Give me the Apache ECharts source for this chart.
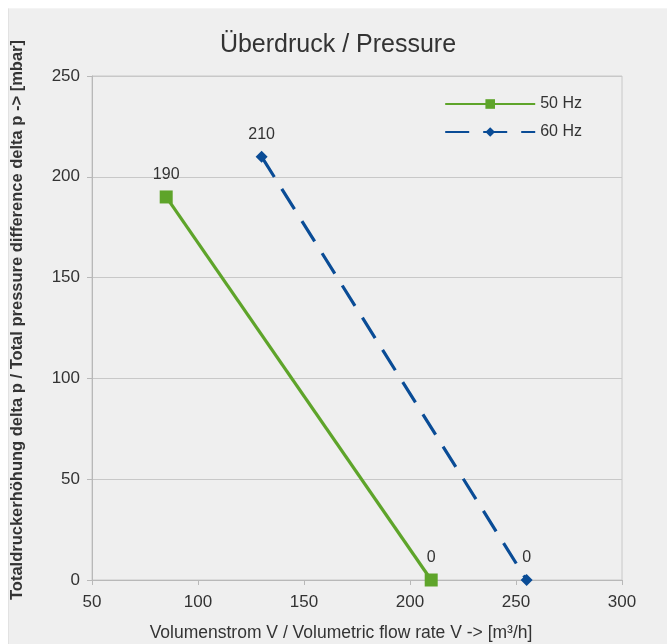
<!DOCTYPE html>
<html>
<head>
<meta charset="utf-8">
<script src="https://cdn.jsdelivr.net/npm/echarts@6/dist/echarts.min.js"></script>
<style>
html,body{margin:0;padding:0;background:#ffffff;}
#bg{position:absolute;left:8px;top:8px;width:658px;height:636px;background:#efefef;border-left:1px solid #e2e2e2;border-top:1px solid #f4f4f4;}
#chart{position:absolute;left:0;top:0;width:669px;height:644px;}
</style>
</head>
<body>
<div id="bg"></div>
<div id="chart"></div>
<script>
const hz50Flow = [85, 210];
const hz50Pressure = [190, 0];
const hz60Flow = [130, 255];
const hz60Pressure = [210, 0];
const seriesNames = ['50 Hz', '60 Hz'];
const titleText = 'Überdruck / Pressure';
const xName = 'Volumenstrom V / Volumetric flow rate V -> [m³/h]';
const yName = 'Totaldruckerhöhung delta p / Total pressure difference delta p -> [mbar]';

const pairs = (xs, ys) => xs.map((x, i) => [x, ys[i]]);
const font = 'Liberation Sans, Arial, sans-serif';
const green = '#5ea42a';
const blue = '#0a4c96';

const chart = echarts.init(document.getElementById('chart'), null, {renderer: 'canvas'});
chart.setOption({
  backgroundColor: 'transparent',
  animation: false,
  textStyle: {fontFamily: font},
  title: {
    text: titleText, top: 33,
    textStyle: {fontFamily: font, fontSize: 25, fontWeight: 'normal', color: '#333'},
    padding: 0, itemGap: 0,
    left: 338, textAlign: 'center'
  },
  legend: {
    right: 82, top: 91, orient: 'vertical', itemGap: 12,
    itemWidth: 90, itemHeight: 12,
    textStyle: {fontFamily: font, fontSize: 16, color: '#333'},
    data: [
      {name: seriesNames[0]},
      {name: seriesNames[1]}
    ]
  },
  grid: {left: 92, right: 47, top: 76, bottom: 64, outerBoundsMode: 'none', containLabel: false,
    show: true, borderColor: '#c8c8c8', borderWidth: 1, backgroundColor: 'transparent'},
  xAxis: {
    type: 'value', min: 50, max: 300, interval: 50,
    name: xName, nameLocation: 'middle', nameGap: 44,
    nameTextStyle: {fontFamily: font, fontSize: 17.5, color: '#333', padding: [0, 32, 0, 0]},
    axisLine: {show: true, lineStyle: {color: '#b8b8b8'}},
    axisTick: {show: true, length: 5, inside: false, lineStyle: {color: '#b8b8b8'}},
    axisLabel: {fontFamily: font, fontSize: 17, color: '#333', margin: 14},
    splitLine: {show: false}
  },
  yAxis: {
    type: 'value', min: 0, max: 250, interval: 50,
    name: yName, nameLocation: 'middle', nameGap: 66,
    nameTextStyle: {fontFamily: font, fontSize: 16.5, color: '#333', fontWeight: 'bold', padding: [0, 0, 0, 16]},
    axisLine: {show: true, lineStyle: {color: '#b8b8b8'}},
    axisTick: {show: true, length: 5, lineStyle: {color: '#b8b8b8'}},
    axisLabel: {fontFamily: font, fontSize: 17, color: '#333', margin: 12},
    splitLine: {show: true, lineStyle: {color: '#c8c8c8', width: 1}}
  },
  series: [
    {
      name: seriesNames[0], type: 'line',
      data: pairs(hz50Flow, hz50Pressure),
      symbol: 'rect', symbolSize: 13,
      lineStyle: {color: green, width: 3.2},
      itemStyle: {color: green},
      label: {show: true, position: 'top', distance: 8, fontFamily: font, fontSize: 16, color: '#333',
        formatter: p => p.value[1]}
    },
    {
      name: seriesNames[1], type: 'line',
      data: pairs(hz60Flow, hz60Pressure),
      symbol: 'diamond', symbolSize: 12,
      lineStyle: {color: blue, width: 3.2, type: [24, 14]},
      itemStyle: {color: blue},
      label: {show: true, position: 'top', distance: 8, fontFamily: font, fontSize: 16, color: '#333',
        formatter: p => p.value[1]}
    }
  ]
});
</script>
</body>
</html>
